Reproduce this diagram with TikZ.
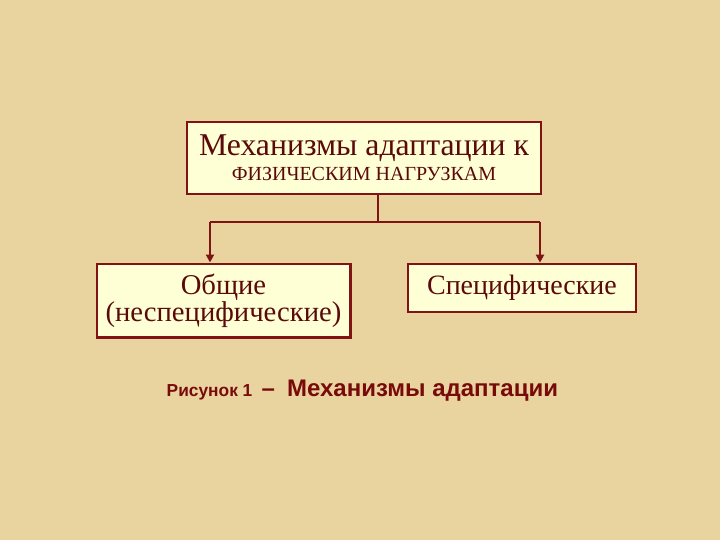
\documentclass[tikz,border=0pt]{standalone}
\usepackage{fontspec}
\setmainfont{Liberation Serif}
\newfontfamily\capfont{Liberation Sans}
\usetikzlibrary{arrows.meta}

\definecolor{bgtan}{RGB}{233,212,160}
\definecolor{boxfill}{RGB}{255,255,214}
\definecolor{boxline}{RGB}{128,20,20}
\definecolor{boxtext}{RGB}{90,10,10}
\definecolor{captext}{RGB}{120,10,10}

\tikzset{
  mechbox/.style={draw=boxline, fill=boxfill, line width=2pt, inner sep=0pt,
    align=center, text=boxtext},
  link/.style={draw=boxline, line width=1.5pt},
  linkarrow/.style={link, -{Triangle[length=6pt,width=6pt]}}
}

\begin{document}
\begin{tikzpicture}[x=0.75pt,y=0.75pt,yscale=-1,xscale=1]
    % background
    \path[fill=bgtan] (0,0) rectangle (720,540);

    % Boxes
    \node[mechbox, minimum width=265.5pt, minimum height=54pt] (top) at (364,158)
      {\fontsize{23.8}{26}\selectfont Механизмы адаптации к\\[3pt]
       \fontsize{15}{17}\selectfont ФИЗИЧЕСКИМ НАГРУЗКАМ};
    \node[mechbox, minimum width=190pt, minimum height=55pt] (general) at (223.5,300.5)
      {\fontsize{21.5}{24}\selectfont Общие\\ \fontsize{21.5}{24}\selectfont (неспецифические)};
    \node[mechbox, minimum width=171pt, minimum height=36pt] (specific) at (522,288)
      {\fontsize{21}{23}\selectfont Специфические};

    % Fork
    \coordinate (fork) at (378,222);
    \coordinate (forkL) at (210,222);
    \coordinate (forkR) at (540,222);
    \draw[link] (top.south -| fork) -- (fork);
    \draw[link] (forkL) -- (forkR);
    \draw[linkarrow] (forkL) -- (forkL |- general.north);
    \draw[linkarrow] (forkR) -- (forkR |- specific.north);

    % Caption
    \node[text=captext, anchor=base west] (caption) at (162,396)
      {\capfont\bfseries\fontsize{13}{14}\selectfont Рисунок 1\hspace{7pt}\fontsize{18}{20}\selectfont –\hspace{9pt}Механизмы адаптации};
\end{tikzpicture}
\end{document}
